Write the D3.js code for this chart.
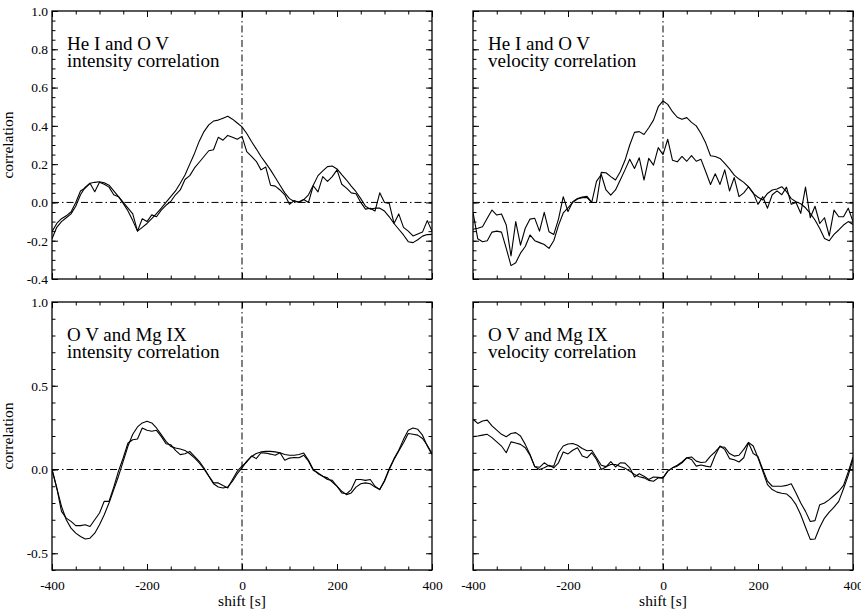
<!DOCTYPE html>
<html>
<head>
<meta charset="utf-8">
<script src="https://d3js.org/d3.v7.min.js"></script>
<style>
  body { margin: 0; background: #fff; }
  text { font-family: "Liberation Serif", "Times New Roman", serif; fill: #000; }
</style>
</head>
<body>
<svg width="861" height="611" id="chart"></svg>
<script>
// shift in seconds, one value every 10 s
const shift = [-400,-390,-380,-370,-360,-350,-340,-330,-320,-310,
  -300,-290,-280,-270,-260,-250,-240,-230,-220,-210,
  -200,-190,-180,-170,-160,-150,-140,-130,-120,-110,
  -100,-90,-80,-70,-60,-50,-40,-30,-20,-10,
  0,10,20,30,40,50,60,70,80,90,
  100,110,120,130,140,150,160,170,180,190,
  200,210,220,230,240,250,260,270,280,290,
  300,310,320,330,340,350,360,370,380,390,
  400];

// He I / O V intensity
const heIntA = [-0.19,-0.13,-0.10,-0.08,-0.06,-0.02,0.04,0.08,0.10,0.105,
  0.108,0.103,0.09,0.06,0.03,-0.005,-0.045,-0.095,-0.15,-0.13,
  -0.11,-0.085,-0.058,-0.03,0.0,0.03,0.06,0.1,0.143,0.2,
  0.256,0.32,0.37,0.405,0.425,0.43,0.44,0.45,0.435,0.415,
  0.395,0.36,0.318,0.28,0.24,0.205,0.17,0.13,0.09,0.05,
  0.02,0.005,0.003,0.015,0.04,0.09,0.14,0.165,0.187,0.19,
  0.175,0.145,0.117,0.085,0.056,0.02,-0.02,-0.035,-0.03,-0.03,
  -0.045,-0.075,-0.11,-0.14,-0.17,-0.205,-0.21,-0.195,-0.176,-0.168,
  -0.167];
const heIntB = [-0.153,-0.11,-0.085,-0.07,-0.05,0.0,0.06,0.075,0.1,0.056,
  0.105,0.095,0.08,0.04,0.03,0.0,-0.03,-0.06,-0.15,-0.085,
  -0.1,-0.065,-0.075,-0.04,-0.015,0.005,0.04,0.065,0.12,0.14,
  0.18,0.21,0.24,0.27,0.275,0.34,0.325,0.35,0.34,0.33,
  0.345,0.265,0.24,0.215,0.17,0.185,0.09,0.085,0.065,0.04,
  -0.01,0.01,0.0,0.015,0.0,0.087,0.055,0.135,0.11,0.135,
  0.17,0.095,0.075,0.05,0.045,0.0,-0.035,-0.03,-0.045,0.05,
  0.0,-0.005,-0.11,-0.06,-0.13,-0.15,-0.175,-0.165,-0.155,-0.095,
  -0.15];

// He I / O V velocity
const heVelA = [-0.05,-0.19,-0.205,-0.2,-0.155,-0.15,-0.155,-0.24,-0.33,-0.315,
  -0.265,-0.23,-0.17,-0.2,-0.21,-0.22,-0.24,-0.2,-0.12,-0.055,
  -0.028,0.0,0.018,0.025,0.025,0.0,0.0,0.157,0.155,0.135,
  0.117,0.16,0.22,0.3,0.366,0.37,0.355,0.39,0.43,0.5,
  0.53,0.512,0.474,0.445,0.434,0.443,0.418,0.40,0.36,0.31,
  0.244,0.24,0.23,0.204,0.175,0.143,0.122,0.105,0.082,0.047,
  0.027,0.013,0.047,0.065,0.07,0.082,0.056,0.02,0.004,-0.007,
  -0.028,-0.057,-0.092,-0.136,-0.188,-0.2,-0.167,-0.144,-0.118,-0.1,
  -0.115];
const heVelB = [-0.14,-0.135,-0.127,-0.083,-0.04,-0.066,-0.06,-0.118,-0.28,-0.1,
  -0.223,-0.135,-0.087,-0.083,-0.15,-0.052,-0.153,-0.167,-0.087,0.03,
  -0.048,0.004,0.021,0.028,0.032,0.0,0.11,0.146,0.065,0.038,
  0.065,0.117,0.17,0.226,0.177,0.233,0.117,0.23,0.195,0.286,
  0.25,0.33,0.22,0.212,0.24,0.215,0.245,0.215,0.225,0.16,
  0.094,0.15,0.094,0.17,0.06,0.13,0.03,0.05,0.082,0.05,
  -0.01,0.03,-0.03,0.04,0.06,0.04,0.08,-0.01,0.0,-0.057,
  0.08,-0.08,-0.02,-0.11,-0.08,-0.175,-0.04,-0.075,-0.075,-0.03,
  -0.1];

// O V / Mg IX intensity
const mgIntA = [0.0,-0.11,-0.22,-0.30,-0.35,-0.38,-0.40,-0.415,-0.41,-0.38,
  -0.33,-0.27,-0.2,-0.12,-0.04,0.05,0.14,0.21,0.254,0.278,
  0.288,0.278,0.248,0.208,0.168,0.138,0.128,0.122,0.114,0.094,
  0.069,0.039,0.003,-0.04,-0.085,-0.104,-0.11,-0.104,-0.07,-0.025,
  0.01,0.05,0.078,0.095,0.105,0.108,0.108,0.105,0.1,0.09,
  0.085,0.085,0.09,0.098,0.055,0.0,-0.025,-0.04,-0.05,-0.075,
  -0.1,-0.13,-0.15,-0.14,-0.105,-0.085,-0.08,-0.085,-0.105,-0.12,
  -0.065,0.005,0.065,0.115,0.18,0.234,0.248,0.24,0.205,0.14,
  0.09];
const mgIntB = [0.0,-0.11,-0.25,-0.29,-0.31,-0.335,-0.335,-0.33,-0.34,-0.30,
  -0.26,-0.19,-0.19,-0.105,-0.01,0.07,0.158,0.178,0.182,0.248,
  0.234,0.228,0.234,0.198,0.154,0.148,0.114,0.089,0.094,0.108,
  0.079,0.049,0.009,-0.037,-0.08,-0.08,-0.096,-0.11,-0.06,-0.01,
  0.02,0.045,0.08,0.065,0.1,0.098,0.092,0.085,0.1,0.055,
  0.068,0.072,0.07,0.085,0.05,-0.005,-0.02,-0.04,-0.06,-0.065,
  -0.1,-0.14,-0.145,-0.12,-0.06,-0.06,-0.065,-0.06,-0.1,-0.12,
  -0.07,0.0,0.06,0.11,0.16,0.215,0.21,0.205,0.185,0.145,
  0.095];

// O V / Mg IX velocity
const mgVelA = [0.3,0.275,0.29,0.295,0.26,0.235,0.21,0.196,0.215,0.22,
  0.2,0.15,0.09,0.017,0.013,0.04,0.02,0.02,0.1,0.14,
  0.152,0.155,0.145,0.125,0.112,0.115,0.07,0.025,0.017,0.03,
  0.03,0.018,0.008,-0.01,-0.03,-0.043,-0.05,-0.065,-0.07,-0.05,
  -0.05,-0.01,0.01,0.025,0.045,0.07,0.075,0.05,0.042,0.045,
  0.08,0.106,0.136,0.133,0.095,0.08,0.085,0.12,0.162,0.14,
  0.07,-0.01,-0.09,-0.12,-0.135,-0.142,-0.146,-0.17,-0.21,-0.27,
  -0.345,-0.417,-0.415,-0.345,-0.29,-0.255,-0.225,-0.19,-0.115,-0.035,
  0.06];
const mgVelB = [0.196,0.2,0.205,0.21,0.19,0.165,0.14,0.1,0.165,0.158,
  0.15,0.13,0.085,0.017,0.0,0.01,0.025,0.01,0.04,0.105,
  0.093,0.115,0.13,0.08,0.07,0.1,0.06,0.0,0.015,0.047,
  0.015,0.04,0.038,0.01,-0.045,-0.025,-0.04,-0.06,-0.045,-0.047,
  -0.05,-0.01,0.01,0.02,0.04,0.07,0.06,0.02,0.027,0.02,
  0.015,0.085,0.14,0.12,0.065,0.058,0.045,0.07,0.16,0.095,
  0.077,0.0,-0.07,-0.1,-0.1,-0.1,-0.095,-0.085,-0.14,-0.2,
  -0.25,-0.31,-0.305,-0.21,-0.2,-0.18,-0.155,-0.13,-0.095,-0.015,
  0.075];

const xTicks = [-400, -200, 0, 200, 400];
const topYTicks = [-0.4, -0.2, 0.0, 0.2, 0.4, 0.6, 0.8, 1.0];
const bottomYTicks = [-0.5, 0.0, 0.5, 1.0];
const titles = [
  ["He I and O V", "intensity correlation"],
  ["He I and O V", "velocity correlation"],
  ["O V and Mg IX", "intensity correlation"],
  ["O V and Mg IX", "velocity correlation"]
];

let svg = d3.select("#chart");
svg.append("rect").attr("width", 861).attr("height", 611).attr("fill", "#fff");

const colX = [52, 473], colW = 380;
const rowY = [11, 302], rowH = 268;

const panels = [
  {col: 0, row: 0, title: titles[0], yDomain: [-0.4, 1.0], yTicks: topYTicks, yMinor: 0.05, series: [heIntA, heIntB]},
  {col: 1, row: 0, title: titles[1], yDomain: [-0.4, 1.0], yTicks: topYTicks, yMinor: 0.05, series: [heVelA, heVelB]},
  {col: 0, row: 1, title: titles[2], yDomain: [-0.6, 1.0], yTicks: bottomYTicks, yMinor: 0.1, series: [mgIntA, mgIntB]},
  {col: 1, row: 1, title: titles[3], yDomain: [-0.6, 1.0], yTicks: bottomYTicks, yMinor: 0.1, series: [mgVelA, mgVelB]}
];

const x = d3.scaleLinear().domain([-400, 400]).range([0, colW]);
const xMinor = d3.range(-400, 401, 50);

function styleAxis(g) {
  g.attr("font-size", 13.5).attr("font-family", "Liberation Serif, serif");
  g.select(".domain").remove();
  g.selectAll(".tick line").attr("stroke", "#000").attr("stroke-width", 1);
  g.selectAll(".tick text").attr("fill", "#000");
}

panels.forEach((p, k) => {
  const g = svg.append("g").attr("transform", `translate(${colX[p.col]},${rowY[p.row]})`);
  const y = d3.scaleLinear().domain(p.yDomain).range([rowH, 0]);
  const yMinor = d3.range(Math.round(p.yDomain[0] / p.yMinor), Math.round(p.yDomain[1] / p.yMinor) + 1).map(i => i * p.yMinor);

  g.append("clipPath").attr("id", "clip" + k)
    .append("rect").attr("width", colW).attr("height", rowH);

  // zero lines, dash-dot
  g.append("line").attr("x1", 0).attr("x2", colW).attr("y1", y(0)).attr("y2", y(0))
    .attr("stroke", "#000").attr("stroke-width", 1).attr("stroke-dasharray", "7,3,1.5,3");
  g.append("line").attr("x1", x(0)).attr("x2", x(0)).attr("y1", 0).attr("y2", rowH)
    .attr("stroke", "#000").attr("stroke-width", 1).attr("stroke-dasharray", "7,3,1.5,3");

  const line = d3.line().x((d, i) => x(shift[i])).y(d => y(d));
  g.append("g").attr("clip-path", `url(#clip${k})`)
    .selectAll("path").data(p.series).join("path")
    .attr("d", line).attr("fill", "none").attr("stroke", "#000").attr("stroke-width", 1.1)
    .attr("stroke-linejoin", "round");

  // axes: major, minor, mirrored
  g.append("g").attr("transform", `translate(0,${rowH})`)
    .call(d3.axisBottom(x).tickValues(xTicks).tickSize(-6).tickPadding(10.5)
      .tickFormat(p.row === 1 ? (d => String(d)) : ""))
    .call(styleAxis);
  g.append("g").attr("transform", `translate(0,${rowH})`)
    .call(d3.axisBottom(x).tickValues(xMinor).tickSize(-3.5).tickFormat("")).call(styleAxis);
  g.append("g")
    .call(d3.axisTop(x).tickValues(xTicks).tickSize(-6).tickFormat("")).call(styleAxis);
  g.append("g")
    .call(d3.axisTop(x).tickValues(xMinor).tickSize(-3.5).tickFormat("")).call(styleAxis);

  g.append("g")
    .call(d3.axisLeft(y).tickValues(p.yTicks).tickSize(-6).tickPadding(4)
      .tickFormat(p.col === 0 ? (d => d.toFixed(1)) : ""))
    .call(styleAxis);
  g.append("g").call(d3.axisLeft(y).tickValues(yMinor).tickSize(-3.5).tickFormat("")).call(styleAxis);
  g.append("g").attr("transform", `translate(${colW},0)`)
    .call(d3.axisRight(y).tickValues(p.yTicks).tickSize(-6).tickFormat("")).call(styleAxis);
  g.append("g").attr("transform", `translate(${colW},0)`)
    .call(d3.axisRight(y).tickValues(yMinor).tickSize(-3.5).tickFormat("")).call(styleAxis);

  g.append("rect").attr("width", colW).attr("height", rowH)
    .attr("fill", "none").attr("stroke", "#000").attr("stroke-width", 1.3);

  g.selectAll("text.title").data(p.title).join("text").attr("class", "title")
    .attr("x", 15).attr("y", (d, i) => 39 + i * 16.5)
    .attr("font-size", 19).text(d => d);

  if (p.col === 0) {
    g.append("text")
      .attr("transform", `translate(-39,${rowH / 2}) rotate(-90)`)
      .attr("text-anchor", "middle").attr("font-size", 15.5).text("correlation");
  }
  if (p.row === 1) {
    g.append("text").attr("x", colW / 2).attr("y", rowH + 36)
      .attr("text-anchor", "middle").attr("font-size", 15.5).text("shift [s]");
  }
});
</script>
</body>
</html>
